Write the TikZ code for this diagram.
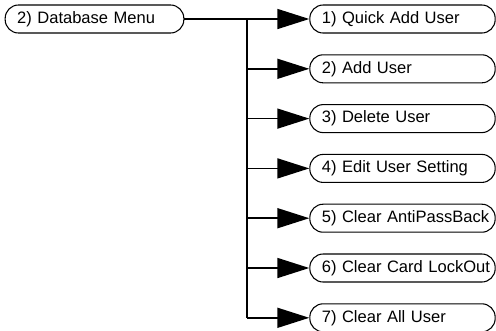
\documentclass[tikz,border=0pt]{standalone}
\usepackage{fontspec}
\setmainfont{Liberation Sans}
\usetikzlibrary{arrows.meta}

\tikzset{
  menubox/.style={draw,line width=0.8pt,rounded corners=10pt,minimum height=21pt,
    inner xsep=2pt,inner ysep=0pt,align=left,font=\fontsize{12.4}{15}\selectfont,
    execute at begin node={\hspace*{7pt}}},
  rootbox/.style={menubox,text width=130pt},
  itembox/.style={menubox,text width=135pt},
  branch/.style={line width=1.2pt},
  feed/.style={line width=1.2pt,-{Triangle[length=24pt,width=15pt]}}
}

\begin{document}
\begin{tikzpicture}[x=0.75pt,y=-0.75pt]
\useasboundingbox (0,0) rectangle (496,330);
\node[rootbox] (root) at (94.5,19) {2) Database Menu};
\node[itembox] (quick) at (402.5,19) {1) Quick Add User};
\node[itembox] (add) at (402.5,68.8) {2) Add User};
\node[itembox] (del) at (402.5,118.6) {3) Delete User};
\node[itembox] (edit) at (402.5,168.4) {4) Edit User Setting};
\node[itembox] (apb) at (402.5,218.2) {5) Clear AntiPassBack};
\node[itembox] (lock) at (402.5,268) {6) Clear Card LockOut};
\node[itembox] (clr) at (402.5,317.8) {7) Clear All User};
\coordinate (bus) at (247,19);
\coordinate (busend) at (247,317.8);
\draw[branch] (root.east) -- (bus) -- (busend);
\draw[feed] (bus) -- (quick.west);
\draw[feed] (bus |- add) -- (add.west);
\draw[feed] (bus |- del) -- (del.west);
\draw[feed] (bus |- edit) -- (edit.west);
\draw[feed] (bus |- apb) -- (apb.west);
\draw[feed] (bus |- lock) -- (lock.west);
\draw[feed] (busend) -- (clr.west);
\end{tikzpicture}
\end{document}
